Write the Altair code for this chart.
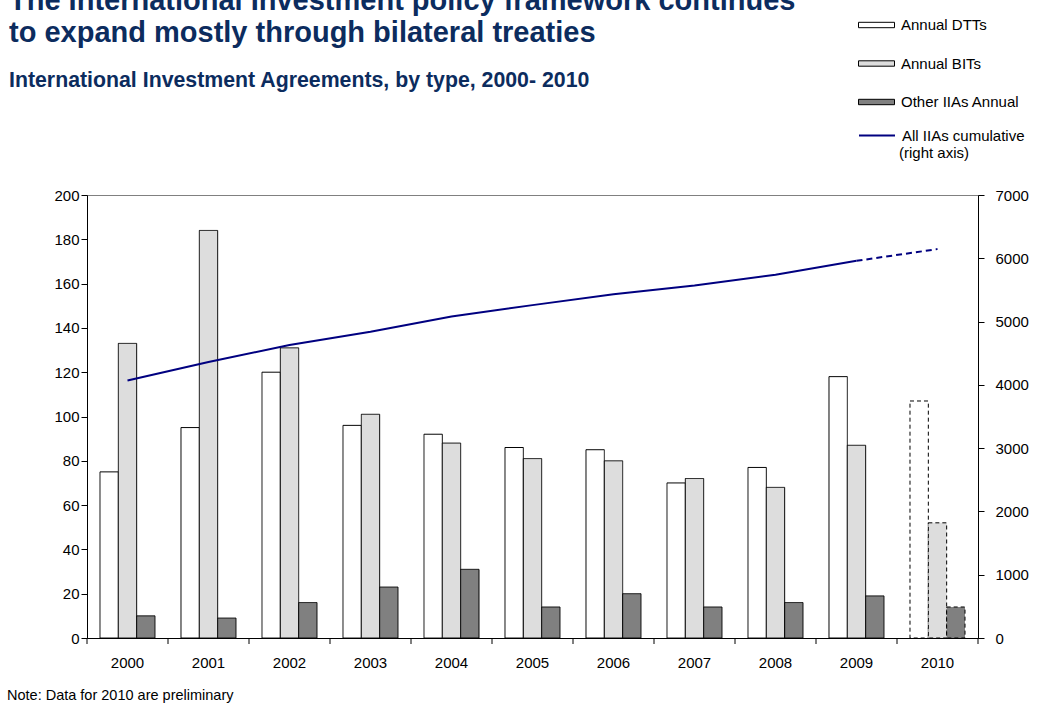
import altair as alt
import pandas as pd

years = ["2000", "2001", "2002", "2003", "2004", "2005", "2006", "2007", "2008", "2009", "2010"]
dtts = [75, 95, 120, 96, 92, 86, 85, 70, 77, 118, 107]
bits = [133, 184, 131, 101, 88, 81, 80, 72, 68, 87, 52]
others = [10, 9, 16, 23, 31, 14, 20, 14, 16, 19, 14]
cumulative = [4070, 4360, 4630, 4840, 5080, 5260, 5430, 5570, 5740, 5960, 6145]

types = ["Annual DTTs", "Annual BITs", "Other IIAs  Annual"]
type_colors = ["#ffffff", "#dddddd", "#808080"]
line_name = "All IIAs cumulative"
navy = "#0c2c5e"
FONT = "Liberation Sans"

rows = []
for i, y in enumerate(years):
    for t, v in zip(types, [dtts[i], bits[i], others[i]]):
        rows.append({"year": y, "type": t, "value": v, "prelim": y == "2010"})
bars_df = pd.DataFrame(rows)

solid_df = pd.DataFrame({"year": years[:-1], "cum": cumulative[:-1], "series": line_name})
dash_df = pd.DataFrame({"year": years[-2:], "cum": cumulative[-2:], "series": line_name})
tick_df = pd.DataFrame({"year": years})

xscale = alt.Scale(domain=years, paddingInner=0, paddingOuter=0)
xaxis = alt.Axis(title=None, labelAngle=0, ticks=False, tickSize=0, labelPadding=17,
                 labelFont=FONT, labelFontSize=15, labelColor="black",
                 domainColor="black", domainWidth=1, grid=False)

bars = alt.Chart(bars_df).mark_bar(stroke="black", strokeWidth=1).encode(
    x=alt.X("year:N", scale=xscale, axis=xaxis),
    xOffset=alt.XOffset("type:N", scale=alt.Scale(domain=types, paddingInner=0, paddingOuter=0.709)),
    y=alt.Y("value:Q", scale=alt.Scale(domain=[0, 200], nice=False),
            axis=alt.Axis(title=None, orient="left", values=list(range(0, 201, 20)), grid=False,
                          tickSize=6, tickColor="black", labelPadding=2, labelFont=FONT,
                          labelFontSize=15, labelColor="black", domainColor="black")),
    fill=alt.Fill("type:N", scale=alt.Scale(domain=types, range=type_colors),
                  legend=alt.Legend(title=None, orient="none", legendX=771, legendY=-188.5,
                                    symbolType="M-1,-0.15H1V0.15H-1Z", symbolSize=1296,
                                    symbolStrokeColor="black", symbolStrokeWidth=1,
                                    symbolFillColor="white",
                                    labelFont=FONT, labelFontSize=15, labelColor="black",
                                    labelOffset=6, rowPadding=11.5, padding=0)),
    strokeDash=alt.StrokeDash("prelim:N", scale=alt.Scale(domain=[False, True], range=[[1, 0], [4, 3]]),
                              legend=None),
)

xticks = alt.Chart(tick_df).mark_rule(color="black", strokeWidth=1).encode(
    x=alt.X("year:N", scale=xscale, axis=xaxis, bandPosition=0),
    y=alt.value(443),
    y2=alt.value(449),
)
xtick_end = alt.Chart(tick_df[tick_df.year == "2010"]).mark_rule(color="black", strokeWidth=1).encode(
    x=alt.X("year:N", scale=xscale, axis=xaxis, bandPosition=1),
    y=alt.value(443),
    y2=alt.value(449),
)

yright = alt.Y("cum:Q", scale=alt.Scale(domain=[0, 7000], nice=False),
               axis=alt.Axis(title=None, orient="right", values=list(range(0, 7001, 1000)), grid=False,
                             format="d", tickSize=6, tickColor="black", labelPadding=11,
                             labelFont=FONT, labelFontSize=15, labelColor="black",
                             domainColor="black"))
stroke_enc = alt.Stroke("series:N", scale=alt.Scale(domain=[line_name], range=["#000080"]),
                        legend=alt.Legend(title=None, orient="none", legendX=771, legendY=-78.5,
                                          symbolType="stroke", symbolSize=1296, symbolStrokeWidth=2,
                                          labelFont=FONT, labelFontSize=15, labelColor="black",
                                          labelOffset=6, padding=0))

line_solid = alt.Chart(solid_df).mark_line(strokeWidth=2).encode(
    x=alt.X("year:N", scale=xscale, axis=xaxis), y=yright, stroke=stroke_enc)
line_dash = alt.Chart(dash_df).mark_line(strokeWidth=2, strokeDash=[6, 4]).encode(
    x=alt.X("year:N", scale=xscale, axis=xaxis), y=yright, stroke=stroke_enc)

one = alt.Data(values=[{}])

def label(txt, x, y, size, bold=False, color="black", baseline="alphabetic"):
    return alt.Chart(one).mark_text(text=txt, align="left", baseline=baseline, font=FONT,
                                    fontSize=size, fontWeight="bold" if bold else "normal",
                                    color=color).encode(x=alt.value(x), y=alt.value(y))

texts = [
    label("The International Investment policy framework continues", -78, -185, 29, True, navy),
    label("to expand mostly through bilateral treaties", -78, -153.5, 29, True, navy),
    label("International Investment Agreements, by type, 2000- 2010", -78, -107.7, 21.3, True, navy),
    label("(right axis)", 812, -42, 15, baseline="middle"),
    label("Note: Data for 2010 are preliminary", -80, 501, 14.5, baseline="middle"),
]

chart = alt.layer(
    alt.layer(bars, xticks, xtick_end),
    alt.layer(line_solid, line_dash),
    *texts,
).resolve_scale(y="independent").properties(
    width=891, height=443,
    padding={"left": 87, "top": 195, "right": 61, "bottom": 67},
    autosize=alt.AutoSizeParams(type="none"),
    background="white",
).configure_view(stroke="#808080", strokeWidth=1)

chart.save("out.html", embed_options={"renderer": "svg", "actions": False})
